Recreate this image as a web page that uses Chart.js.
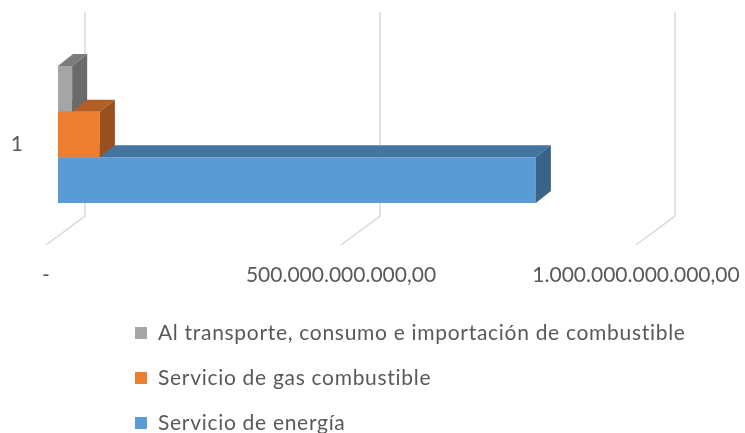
<!DOCTYPE html>
<html>
<head>
<meta charset="utf-8">
<script src="https://cdn.jsdelivr.net/npm/chart.js@4.4.1/dist/chart.umd.min.js"></script>
<style>
  html, body { margin: 0; padding: 0; background: #fff; }
  #wrap { width: 745px; height: 433px; }
</style>
</head>
<body>
<div id="wrap"><canvas id="chart" width="745" height="433"></canvas></div>
<script>
// chart data
const categories = ['1'];
const seriesNames = [
    'Al transporte, consumo e importación de combustible',
    'Servicio de gas combustible',
    'Servicio de energía'
];
const transporteValues = [24000000000];
const gasValues = [71000000000];
const energiaValues = [810000000000];
const seriesColors = ['#A5A5A5', '#ED7D31', '#5B9BD5'];
const axisMin = 0;
const axisMax = 1000000000000;
const axisStep = 500000000000;

const FONT = 'Lato';
const FONT_SIZE = 21;
const TEXT = '#595959';

// 3d look
const DEPTH_X = 15, DEPTH_Y = -12;       // bar depth
const BACK_X = 27, FRONT_X = -12;       // floor back / front plane vs bar front plane
const FLOOR_DY = 29;

function fmtNumber(v) {
    if (v === 0) return '-';
    const s = Math.round(v).toString().replace(/\B(?=(\d{3})+(?!\d))/g, '.');
    return s + ',00';
}

function shade(hex, f) {
    const n = parseInt(hex.slice(1), 16);
    const r = Math.round(((n >> 16) & 255) * f);
    const g = Math.round(((n >> 8) & 255) * f);
    const b = Math.round((n & 255) * f);
    return 'rgb(' + r + ',' + g + ',' + b + ')';
}

const floorGrid = {
    id: 'floorGrid',
    beforeDatasetsDraw(chart) {
        const ctx = chart.ctx;
        const xs = chart.scales.x;
        const area = chart.chartArea;
        ctx.save();
        ctx.strokeStyle = '#D9D9D9';
        ctx.lineWidth = 1.5;
        xs.ticks.forEach(t => {
            const px = xs.getPixelForValue(t.value);
            ctx.beginPath();
            ctx.moveTo(px + BACK_X, area.top - 41);
            ctx.lineTo(px + BACK_X, area.bottom);
            ctx.lineTo(px + FRONT_X, area.bottom + FLOOR_DY);
            ctx.stroke();
        });
        ctx.restore();
    }
};

const bars3d = {
    id: 'bars3d',
    afterDatasetDraw(chart, args) {
        const ctx = chart.ctx;
        const color = seriesColors[args.index];
        args.meta.data.forEach(bar => {
            const p = bar.getProps(['x', 'y', 'base', 'height'], true);
            const left = p.base, right = p.x;
            const top = p.y - p.height / 2, bottom = p.y + p.height / 2;
            ctx.save();
            // top face
            ctx.fillStyle = shade(color, 0.75);
            ctx.beginPath();
            ctx.moveTo(left, top);
            ctx.lineTo(left + DEPTH_X, top + DEPTH_Y);
            ctx.lineTo(right + DEPTH_X, top + DEPTH_Y);
            ctx.lineTo(right, top);
            ctx.closePath();
            ctx.fill();
            // side face
            ctx.fillStyle = shade(color, 0.64);
            ctx.beginPath();
            ctx.moveTo(right, top);
            ctx.lineTo(right + DEPTH_X, top + DEPTH_Y);
            ctx.lineTo(right + DEPTH_X, bottom + DEPTH_Y);
            ctx.lineTo(right, bottom);
            ctx.closePath();
            ctx.fill();
            ctx.restore();
        });
    }
};

const stackedLegend = {
    id: 'stackedLegend',
    afterDraw(chart) {
        const ctx = chart.ctx;
        ctx.save();
        ctx.font = FONT_SIZE + 'px ' + FONT;
        ctx.letterSpacing = '0.7px';
        ctx.textBaseline = 'middle';
        ctx.textAlign = 'left';
        chart.data.datasets.forEach((ds, i) => {
            const y = 333 + i * 45;
            ctx.fillStyle = ds.backgroundColor;
            ctx.fillRect(135, y - 6, 12, 12);
            ctx.fillStyle = TEXT;
            ctx.fillText(ds.label, 158, y);
        });
        ctx.restore();
    }
};

const datasets = [transporteValues, gasValues, energiaValues].map((vals, i) => ({
    label: seriesNames[i],
    data: vals,
    backgroundColor: seriesColors[i],
    borderWidth: 0,
    barPercentage: 1,
    categoryPercentage: 0.8405
}));

new Chart(document.getElementById('chart'), {
    type: 'bar',
    data: { labels: categories, datasets: datasets },
    plugins: [floorGrid, bars3d, stackedLegend],
    options: {
        indexAxis: 'y',
        responsive: false,
        animation: false,
        events: [],
        layout: { padding: { top: 53, right: 97, bottom: 0, left: 0 } },
        plugins: {
            legend: { display: false },
            tooltip: { enabled: false }
        },
        scales: {
            x: {
                min: axisMin,
                max: axisMax,
                grid: { display: false, drawTicks: false },
                border: { display: false },
                ticks: {
                    stepSize: axisStep,
                    maxRotation: 0,
                    padding: 47,
                    labelOffset: FRONT_X,
                    color: TEXT,
                    font: { family: FONT, size: FONT_SIZE },
                    callback: v => fmtNumber(v)
                },
                afterFit: s => { s.height = 217; s.paddingLeft = 0; s.paddingRight = 0; }
            },
            y: {
                grid: { display: false, drawTicks: false },
                border: { display: false },
                ticks: {
                    padding: 35,
                    labelOffset: 10,
                    color: TEXT,
                    font: { family: FONT, size: FONT_SIZE }
                },
                afterFit: s => { s.width = 58; s.paddingTop = 0; s.paddingBottom = 0; }
            }
        }
    }
});
</script>
</body>
</html>
